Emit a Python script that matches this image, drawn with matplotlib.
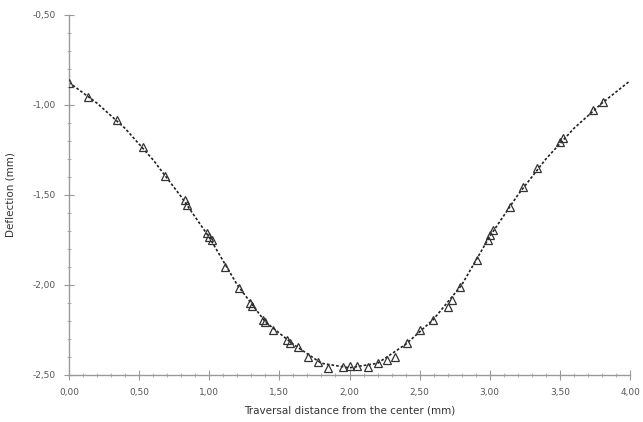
import numpy as np
import matplotlib
matplotlib.use("Agg")
import matplotlib.pyplot as plt
from matplotlib.ticker import MultipleLocator, FuncFormatter

# ----- DATA -----
# measured points (triangles)
x_meas = [0.00, 0.138, 0.340, 0.525, 0.684, 0.827, 0.839, 0.982, 0.998, 1.017,
          1.112, 1.214, 1.290, 1.305, 1.385, 1.398, 1.457, 1.552, 1.576, 1.633,
          1.706, 1.773, 1.849, 1.956, 2.004, 2.051, 2.134, 2.205, 2.265, 2.324,
          2.408, 2.503, 2.597, 2.704, 2.729, 2.788, 2.907, 2.990, 3.002, 3.025,
          3.144, 3.239, 3.340, 3.501, 3.524, 3.738, 3.810]
y_meas = [-0.876, -0.954, -1.083, -1.232, -1.394, -1.528, -1.556, -1.713, -1.733, -1.750,
          -1.898, -2.018, -2.102, -2.117, -2.194, -2.206, -2.250, -2.306, -2.322, -2.343,
          -2.398, -2.426, -2.459, -2.454, -2.450, -2.450, -2.457, -2.435, -2.417, -2.398,
          -2.324, -2.250, -2.194, -2.121, -2.083, -2.009, -1.861, -1.750, -1.722, -1.694,
          -1.565, -1.458, -1.352, -1.204, -1.185, -1.028, -0.982]

# dashed reference curve
x_curve = [0.0, 0.2, 0.4, 0.6, 0.8, 1.0, 1.2, 1.4, 1.6, 1.8, 2.0,
           2.2, 2.4, 2.6, 2.8, 3.0, 3.2, 3.4, 3.6, 3.8, 3.99]
y_curve = [-0.875, -0.99, -1.13, -1.305, -1.51, -1.735, -2.00, -2.205, -2.33, -2.435, -2.46,
           -2.435, -2.33, -2.19, -2.00, -1.73, -1.50, -1.30, -1.13, -0.99, -0.872]

# ----- PLOT -----
fig = plt.figure(figsize=(6.43, 4.22), dpi=100)
ax = fig.add_axes([0.1073, 0.1114, 0.8725, 0.8531])

ax.plot(x_curve, y_curve, linestyle=(0, (1.6, 1.2)), color="#222222", linewidth=1.2, zorder=2)
ax.plot(x_meas, y_meas, linestyle="none", marker="^", markersize=5.5,
        markerfacecolor="none", markeredgecolor="#333333", markeredgewidth=0.9, zorder=3)

ax.set_xlim(0, 4.0)
ax.set_ylim(-2.5, -0.5)

ax.xaxis.set_major_locator(MultipleLocator(0.5))
ax.xaxis.set_minor_locator(MultipleLocator(0.1))
ax.yaxis.set_major_locator(MultipleLocator(0.5))
ax.yaxis.set_minor_locator(MultipleLocator(0.1))

comma = FuncFormatter(lambda v, pos: f"{v:.2f}".replace(".", ",").replace("-0,00", "0,00"))
ax.xaxis.set_major_formatter(comma)
ax.yaxis.set_major_formatter(comma)

for side in ["top", "right"]:
    ax.spines[side].set_visible(False)
for side in ["left", "bottom"]:
    ax.spines[side].set_color("#999999")
    ax.spines[side].set_linewidth(1.0)

ax.tick_params(which="major", direction="inout", length=7, width=0.8, color="#999999",
               labelsize=6.5, labelcolor="#555555", pad=6)
ax.tick_params(which="minor", direction="inout", length=3.5, width=0.7, color="#b0b0b0")

ax.set_xlabel("Traversal distance from the center (mm)", fontsize=7.5, color="#333333", labelpad=6)
ax.set_ylabel("Deflection (mm)", fontsize=7.5, color="#333333", labelpad=12)

fig.savefig("out.png", dpi=100)
